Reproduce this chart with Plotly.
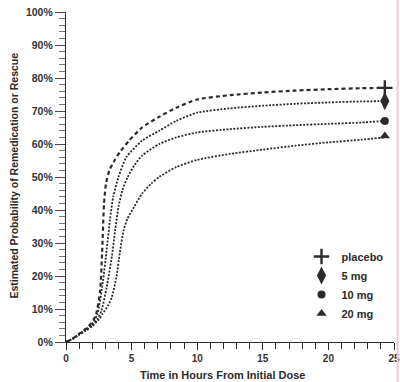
import plotly.graph_objects as go

# ---- data ----
t_placebo = [0, 0.5, 1, 1.5, 2, 2.3, 2.6, 2.75, 2.9, 3.05, 3.3, 3.7, 4.1, 4.8, 5.8, 7, 8.4, 10, 12.5, 15, 17.5, 20, 22.5, 24.3]
p_placebo = [0, 1, 2.5, 4, 6, 8.5, 15.5, 27, 42, 48, 52, 55, 57.5, 61, 65, 68, 71, 73.5, 74.8, 75.6, 76.2, 76.6, 76.9, 77]

t_5mg = [0, 0.5, 1, 1.5, 2, 2.4, 2.8, 3.1, 3.35, 3.6, 4, 4.6, 5.8, 7.1, 8.4, 10, 12.5, 15, 17.5, 20, 22.5, 24.3]
p_5mg = [0, 1, 2.4, 3.8, 5.5, 8.5, 18, 28, 37, 44, 50, 56, 61, 64, 67, 69.5, 70.8, 71.6, 72.2, 72.6, 72.9, 73]

t_10mg = [0, 0.5, 1, 1.5, 2, 2.4, 2.7, 3.1, 3.5, 3.75, 4, 4.3, 4.7, 5.2, 5.8, 7.1, 8.4, 10, 12.5, 15, 17.5, 20, 22.5, 24.3]
p_10mg = [0, 1, 2.3, 3.6, 5, 7, 9.5, 16.5, 26, 34, 41, 46, 50, 53.5, 56.5, 60, 62, 63.5, 64.5, 65.2, 65.7, 66.1, 66.5, 67]

t_20mg = [0, 0.5, 1, 1.5, 2, 2.5, 2.8, 3.2, 3.5, 3.85, 4.1, 4.4, 4.7, 5.2, 5.8, 6.5, 7.1, 8.4, 10, 12.5, 15, 17.5, 20, 22.5, 24.3]
p_20mg = [0, 1, 2.2, 3.4, 4.8, 6.8, 8.6, 11, 13.7, 19.8, 27, 34, 37.5, 41, 45, 48, 50, 53, 55.2, 57, 58.3, 59.5, 60.5, 61.3, 62]

series_names = ["placebo", "5 mg", "10 mg", "20 mg"]
end_t = [24.3, 24.3, 24.3, 24.3]
end_p = [77, 73, 67, 62.4]

x_ticks = [0, 5, 10, 15, 20, 25]
y_ticks = [0, 10, 20, 30, 40, 50, 60, 70, 80, 90, 100]
y_ticklabels = [f"{v}%" for v in y_ticks]

# ---- styling ----
FONT = "Liberation Sans, Arial, sans-serif"
INK = "#2b2b2b"
symbols = ["cross-thin", "diamond-tall", "circle", "triangle-up"]
msizes = [11, 13, 8, 9]
dashes = ["4px,3px", "2px,1.5px", "2px,1.5px", "2px,1.5px"]
widths = [2.2, 1.8, 1.8, 1.8]

curves = [(t_placebo, p_placebo), (t_5mg, p_5mg), (t_10mg, p_10mg), (t_20mg, p_20mg)]

fig = go.Figure()
for (tt, pp), d, w in zip(curves, dashes, widths):
    fig.add_trace(go.Scatter(x=tt, y=pp, mode="lines",
                             line=dict(color=INK, width=w, dash=d, shape="spline", smoothing=0.6),
                             showlegend=False, hoverinfo="skip"))

for name, sym, sz, xe, ye in zip(series_names, symbols, msizes, end_t, end_p):
    fig.add_trace(go.Scatter(x=[xe], y=[ye], mode="markers", name=name,
                             marker=dict(symbol=sym, size=sz, color=INK,
                                         line=dict(color=INK, width=2.4 if sym == "cross-thin" else 0))))

fig.update_layout(
    width=400, height=382,
    margin=dict(l=66, r=6, t=12, b=40, autoexpand=False),
    paper_bgcolor="white", plot_bgcolor="white",
    font=dict(family=FONT, color=INK, size=10),
    legend=dict(x=0.718, y=0.303, xanchor="left", yanchor="top",
                bgcolor="rgba(0,0,0,0)", font=dict(size=11, weight="bold", family=FONT),
                itemwidth=30, tracegroupgap=0),
    annotations=[
        dict(text="Estimated Probability of Remedication or Rescue", xref="paper", yref="paper",
             x=-0.158, y=0.505, xanchor="center", yanchor="middle", textangle=-90, showarrow=False,
             font=dict(size=10.5, weight="bold", family=FONT)),
        dict(text="Time in Hours From Initial Dose", xref="paper", yref="paper",
             x=0.478, y=-0.1, xanchor="center", yanchor="middle", showarrow=False,
             font=dict(size=11, weight="bold", family=FONT)),
    ],
    shapes=[dict(type="line", xref="paper", yref="paper", x0=1.011, x1=1.011, y0=-0.2, y1=1.1,
                 line=dict(color="#f4c6dc", width=2))],
)

fig.update_xaxes(range=[0, 25], tickvals=x_ticks, ticks="outside", ticklen=7, tickwidth=1.2,
                 tickcolor=INK, showline=True, linecolor=INK, linewidth=1.3, showgrid=False,
                 zeroline=False, ticklabeloverflow="allow", automargin=False,
                 tickfont=dict(size=10, weight="bold", color="#333"),
                 minor=dict(dtick=1, ticks="outside", ticklen=6, tickcolor=INK, tickwidth=1))
fig.update_yaxes(range=[0, 100], tickvals=y_ticks, ticktext=y_ticklabels, ticks="outside",
                 ticklen=10, tickwidth=1.3, tickcolor="#6a3a55", showline=True, linecolor=INK,
                 linewidth=1.3, showgrid=False, zeroline=False, automargin=False,
                 tickfont=dict(size=10.5, weight="bold", color="#333"),
                 minor=dict(dtick=2, ticks="outside", ticklen=6, tickcolor="#777", tickwidth=1))

fig.write_html("out.html")
